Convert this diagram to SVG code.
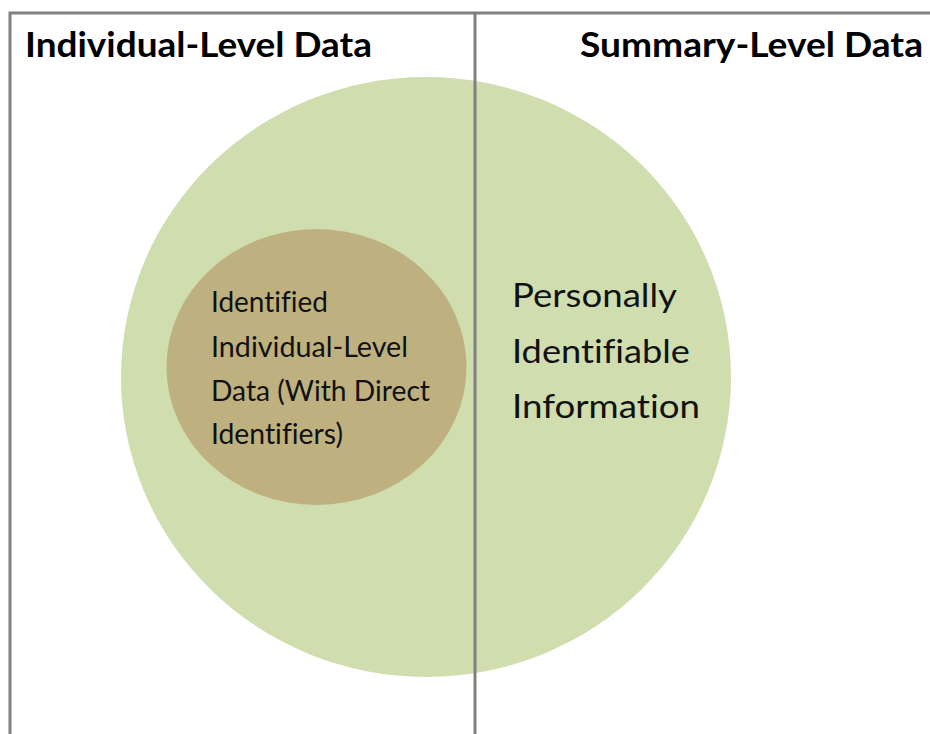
<svg xmlns="http://www.w3.org/2000/svg" width="930" height="734" viewBox="0 0 930 734">
<style>
text{font-variant-ligatures:none;font-feature-settings:"liga" 0}
.title{font-family:Lato,"Open Sans","Liberation Sans",sans-serif;font-weight:bold;font-size:35px;fill:#000}
.inner{font-family:Lato,"Open Sans","Liberation Sans",sans-serif;font-size:28px;fill:#111}
.pii{font-family:Lato,"Open Sans","Liberation Sans",sans-serif;font-size:33.5px;fill:#111}
.frame{stroke:#808080;stroke-width:3;fill:none}
</style>
<rect width="930" height="734" fill="#fff"/>
<g id="pii-circle">
<ellipse cx="426" cy="377" rx="305" ry="300" fill="#CFDDAF"/>
<text class="pii" x="512" y="307" textLength="165" lengthAdjust="spacingAndGlyphs">Personally</text>
<text class="pii" x="512" y="363" textLength="178" lengthAdjust="spacingAndGlyphs">Identifiable</text>
<text class="pii" x="512" y="418" textLength="188" lengthAdjust="spacingAndGlyphs">Information</text>
</g>
<g id="identified-circle">
<ellipse cx="316.5" cy="367" rx="150" ry="138" fill="#BEB17F"/>
<text class="inner" x="211" y="312" textLength="117" lengthAdjust="spacingAndGlyphs">Identified</text>
<text class="inner" x="211" y="357" textLength="197" lengthAdjust="spacingAndGlyphs">Individual-Level</text>
<text class="inner" x="211" y="401" textLength="219" lengthAdjust="spacingAndGlyphs">Data (With Direct</text>
<text class="inner" x="211" y="444" textLength="132" lengthAdjust="spacingAndGlyphs">Identifiers)</text>
</g>
<g id="frame">
<path class="frame" d="M10 734 V13 H930 M475 13 V734"/>
</g>
<g id="headers">
<text class="title" x="25" y="57" textLength="347" lengthAdjust="spacingAndGlyphs">Individual-Level Data</text>
<text class="title" x="580" y="57" textLength="343" lengthAdjust="spacingAndGlyphs">Summary-Level Data</text>
</g>
<g id="connectors"/>
</svg>
